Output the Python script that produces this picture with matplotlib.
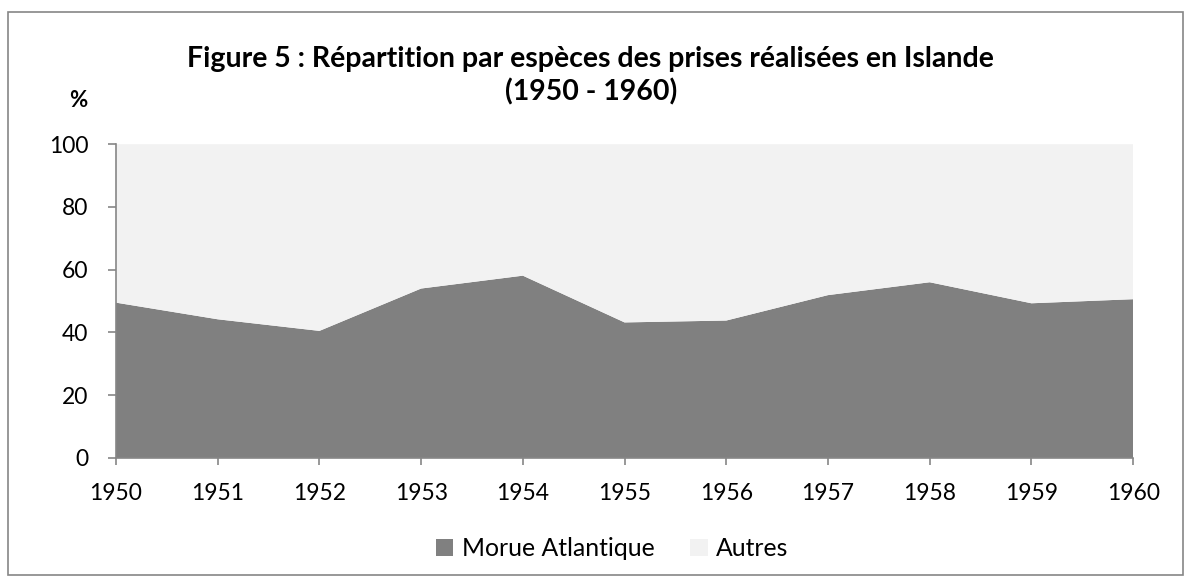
import matplotlib
matplotlib.use("Agg")
import matplotlib.pyplot as plt
from matplotlib.patches import Rectangle, Patch

years = [1950, 1951, 1952, 1953, 1954, 1955, 1956, 1957, 1958, 1959, 1960]
morue = [49.5, 44.2, 40.5, 54.0, 58.1, 43.2, 43.8, 51.9, 56.0, 49.3, 50.6]
autres = [100 - v for v in morue]
series_names = ["Morue Atlantique", "Autres"]
colors = ["#808080", "#f2f2f2"]

plt.rcParams['font.family'] = ['Lato', 'DejaVu Sans']

fig = plt.figure(figsize=(11.91, 5.79), dpi=100)
ax = fig.add_axes([0.0974, 0.209, 0.854, 0.542])

ax.stackplot(years, morue, autres, colors=colors, linewidth=0)

ax.set_xlim(1950, 1960)
ax.set_ylim(0, 100)
ax.set_xticks(years)
ax.set_yticks(range(0, 101, 20))
ax.tick_params(axis='both', labelsize=16.5, color='#868686', width=1.2)
ax.tick_params(axis='y', length=6, pad=14)
ax.tick_params(axis='x', length=5, pad=13)
for s in ['top', 'right']:
    ax.spines[s].set_visible(False)
for s in ['left', 'bottom']:
    ax.spines[s].set_color('#868686')
    ax.spines[s].set_linewidth(1.2)

fig.text(0.496, 0.869, "Figure 5 : Répartition par espèces des prises réalisées en Islande\n(1950 - 1960)",
         ha='center', va='center', fontsize=20.5, fontweight='bold', linespacing=1.27)
fig.text(0.066, 0.826, "%", ha='center', va='center', fontsize=16, fontweight='bold')

handles = [Patch(facecolor=c, edgecolor='none') for c in colors]
fig.legend(handles, series_names, loc='center', bbox_to_anchor=(0.514, 0.053), ncol=2,
           frameon=False, fontsize=17.8, handlelength=0.7, handleheight=0.7,
           handletextpad=0.35, columnspacing=1.45)

fig.patches.append(Rectangle((0.007, 0.007), 0.986, 0.972, transform=fig.transFigure,
                             fill=False, edgecolor='#868686', linewidth=1.2))

fig.savefig("out.png", dpi=100)
